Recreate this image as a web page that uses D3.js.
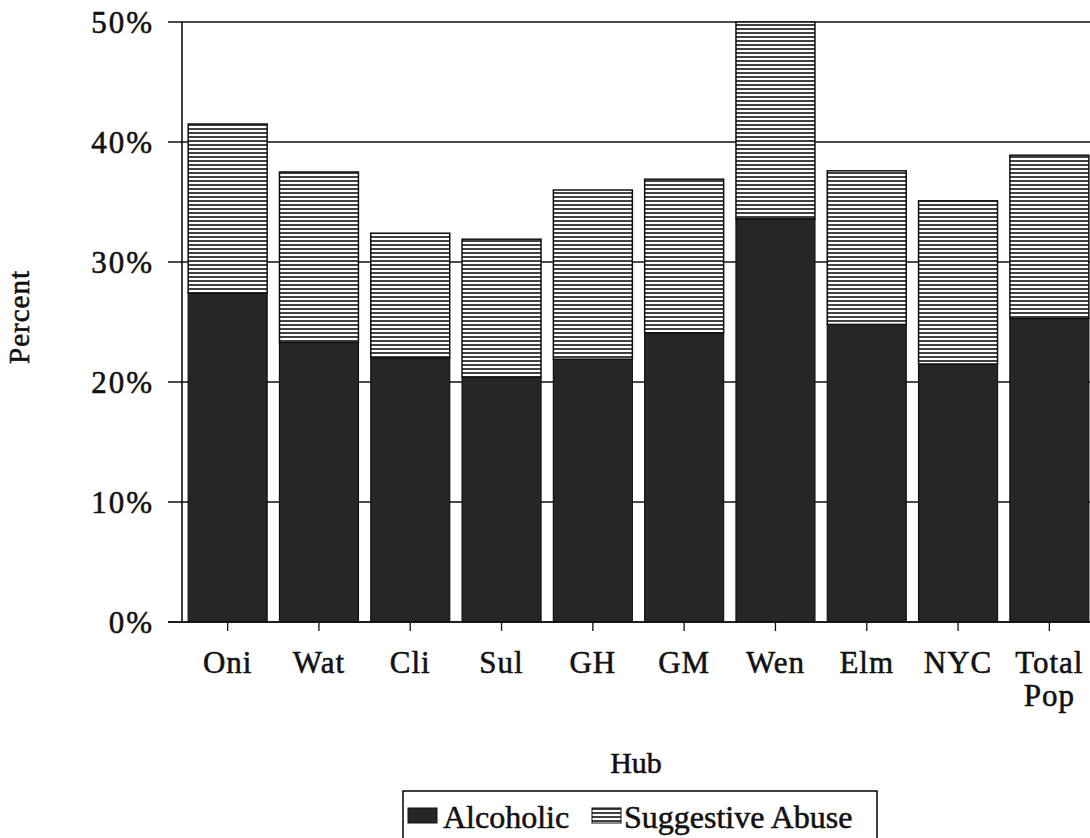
<!DOCTYPE html>
<html><head><meta charset="utf-8">
<script src="https://cdn.jsdelivr.net/npm/d3@7"></script>
<style>body{margin:0;background:#fff}svg{display:block}text{font-family:"Liberation Serif","Times New Roman",serif;fill:#111;stroke:#111;stroke-width:0.55px}</style>
</head><body>
<svg id="c" width="1090" height="838"></svg>
<script>
const categories = ["Oni","Wat","Cli","Sul","GH","GM","Wen","Elm","NYC","Total Pop"];
const alcoholic = [27.4, 23.3, 22.0, 20.4, 21.9, 24.1, 33.6, 24.8, 21.5, 25.3];
const suggestive = [14.1, 14.2, 10.4, 11.5, 14.1, 12.8, 16.4, 12.8, 13.6, 13.6];
const yTicks = [0, 10, 20, 30, 40, 50];
const seriesNames = ["Alcoholic", "Suggestive Abuse"];

const svg = d3.select("#c");
const defs = svg.append("defs");
const pat = defs.append("pattern").attr("id","hatch").attr("patternUnits","userSpaceOnUse")
  .attr("width",8).attr("height",4);
pat.append("rect").attr("width",8).attr("height",4).attr("fill","#fff");
pat.append("line").attr("x1",0).attr("x2",8).attr("y1",1).attr("y2",1)
  .attr("stroke","#111").attr("stroke-width",1.6);

const x = d3.scaleBand().domain(categories).range([182, 1095]).paddingInner(0.135).paddingOuter(0.0675);
const y = d3.scaleLinear().domain([0, 50]).range([622, 22]);

// gridlines
svg.append("g").selectAll("line").data(yTicks).join("line")
  .attr("x1",168).attr("x2",1090).attr("y1",d=>y(d)).attr("y2",d=>y(d))
  .attr("stroke","#111").attr("stroke-width",1.6);

// y axis
const yAxis = d3.axisLeft(y).tickValues(yTicks).tickFormat(d=>d+"%").tickSize(0).tickPadding(14);
const gy = svg.append("g").attr("transform","translate(168,0)").call(yAxis);
gy.select(".domain").remove();
gy.selectAll("text").style("font-size","31px").style("letter-spacing","2px").attr("dy","0.34em");
svg.append("line").attr("x1",182).attr("x2",182).attr("y1",22).attr("y2",622)
  .attr("stroke","#111").attr("stroke-width",1.6);

// bars
const stack = categories.map((c,i)=>({c, a:alcoholic[i], s:suggestive[i]}));
const bars = svg.append("g");
bars.selectAll(".alc").data(stack).join("rect").attr("class","alc")
  .attr("x",d=>x(d.c)).attr("width",x.bandwidth())
  .attr("y",d=>y(d.a)).attr("height",d=>y(0)-y(d.a))
  .attr("fill","#262626").attr("stroke","#111").attr("stroke-width",1.2);
bars.selectAll(".sug").data(stack).join("rect").attr("class","sug")
  .attr("x",d=>x(d.c)).attr("width",x.bandwidth())
  .attr("y",d=>y(Math.min(50,d.a+d.s))).attr("height",d=>y(d.a)-y(Math.min(50,d.a+d.s)))
  .attr("fill","url(#hatch)").attr("stroke","#111").attr("stroke-width",1.5);

// x axis
const xAxis = d3.axisBottom(x).tickSize(9).tickSizeOuter(0).tickFormat("");
const gx = svg.append("g").attr("transform","translate(0,622)").call(xAxis);
gx.select(".domain").remove();
gx.selectAll("line").attr("stroke","#111").attr("stroke-width",1.3);
svg.append("line").attr("x1",168).attr("x2",1090).attr("y1",622).attr("y2",622)
  .attr("stroke","#111").attr("stroke-width",1.6);
svg.append("g").selectAll("text").data(categories).join("text")
  .attr("x",d=>x(d)+x.bandwidth()/2).attr("y",673).attr("text-anchor","middle")
  .style("font-size","31px").style("letter-spacing","1px")
  .each(function(d){
    const parts = d.split(" ");
    d3.select(this).selectAll("tspan").data(parts).join("tspan")
      .attr("x",x(d)+x.bandwidth()/2).attr("dy",(p,i)=>i===0?0:"1.08em").text(p=>p);
  });

// axis titles
svg.append("text").attr("transform","translate(29,317) rotate(-90)").attr("text-anchor","middle")
  .style("font-size","29px").style("letter-spacing","1px").text("Percent");
svg.append("text").attr("x",636).attr("y",773).attr("text-anchor","middle")
  .style("font-size","30px").text("Hub");

// legend
const lg = svg.append("g");
lg.append("rect").attr("x",403).attr("y",791).attr("width",474).attr("height",60)
  .attr("fill","#fff").attr("stroke","#111").attr("stroke-width",1.6);
lg.append("rect").attr("x",408).attr("y",808).attr("width",29).attr("height",15)
  .attr("fill","#262626").attr("stroke","#111").attr("stroke-width",1);
lg.append("text").attr("x",443).attr("y",828).style("font-size","32px").text(seriesNames[0]);
lg.append("rect").attr("x",592).attr("y",808).attr("width",29).attr("height",15)
  .attr("fill","url(#hatch)").attr("stroke","#111").attr("stroke-width",1);
lg.append("text").attr("x",624).attr("y",828).style("font-size","32px").text(seriesNames[1]);
</script>
</body></html>
